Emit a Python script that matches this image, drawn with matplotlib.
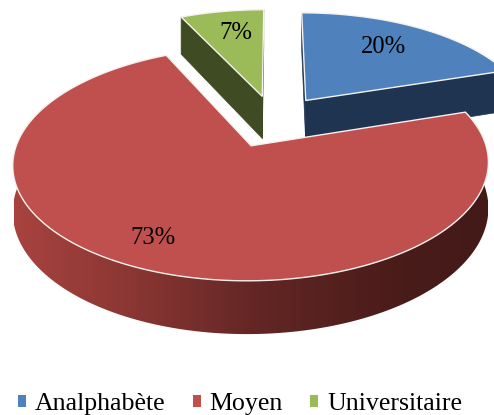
import numpy as np
import matplotlib
matplotlib.use('Agg')
import matplotlib.pyplot as plt
from matplotlib.patches import Polygon, Patch
from matplotlib.colors import LinearSegmentedColormap

labels = ['Analphabète', 'Moyen', 'Universitaire']
values = [20, 73, 7]
colors = ['#4f81bd', '#c0504d', '#9bbb59']
side_colors = ['#1f3450', '#7a2f2d', '#3f4b23']

# layout of the fake 3d pie, in pixels
cx, cy = 274, 121
rx, ry = 227, 106.5
persp = 0.15
depth = 43.5
explode = 0.245
label_r = [0.715, 0.793, 0.74]
label_turn = [-2.4, 3.6, 1.6]

plt.rcParams['font.family'] = ['Liberation Serif', 'DejaVu Serif']


def project(u, v, drop=0):
    s = 1 / (1 + persp * v)
    return cx + rx * u * s, cy - ry * v * s + drop * s


def arc_points(a1, a2, ox, oy, drop=0):
    ang = np.radians(np.linspace(a1, a2, 200))
    px, py = project(ox + np.sin(ang), oy + np.cos(ang), drop)
    return np.column_stack([px, py])


def wedge_points(a1, a2, ox, oy):
    return np.vstack([project(ox, oy), arc_points(a1, a2, ox, oy)])


def side_face(a, ox, oy):
    s = np.sin(np.radians(a))
    c = np.cos(np.radians(a))
    p0 = project(ox, oy)
    p1 = project(ox + s, oy + c)
    p2 = project(ox + s, oy + c, depth)
    p3 = project(ox, oy, depth)
    return [p0, p1, p2, p3]


fig = plt.figure(figsize=(4.94, 4.15), dpi=100)
ax = fig.add_axes([0, 0, 1, 1])

# wedge angles, clockwise from the top
total = sum(values)
starts = np.cumsum([0] + values[:-1]) * 360 / total
ends = np.cumsum(values) * 360 / total

wall_cmap = LinearSegmentedColormap.from_list(
    'wall', [(0, '#a8433f'), (0.25, '#8a3633'), (0.5, '#642725'), (0.8, '#4a1c1a'), (1, '#431a18')])

# back slices first, the big red one goes on top
for i in [2, 0, 1]:
    a1, a2 = starts[i], ends[i]
    mid = np.radians((a1 + a2) / 2)
    ox, oy = explode * np.sin(mid), explode * np.cos(mid)

    if i == 1:
        # outer wall, gradient clipped to the rim
        top = arc_points(a1, a2, ox, oy)
        bottom = arc_points(a1, a2, ox, oy, depth)
        wall = Polygon(np.vstack([top, bottom[::-1]]), transform=ax.transData,
                       facecolor='none', edgecolor='none')
        ax.add_patch(wall)
        im = ax.imshow(np.linspace(0, 1, 256).reshape(1, -1), cmap=wall_cmap,
                       extent=[14, 487, 340, 100], aspect='auto', zorder=2)
        im.set_clip_path(wall)
    else:
        for a in (a1, a2):
            ax.add_patch(Polygon(side_face(a, ox, oy), facecolor=side_colors[i],
                                 edgecolor=side_colors[i], lw=0.5))

    ax.add_patch(Polygon(wedge_points(a1, a2, ox, oy), facecolor=colors[i],
                         edgecolor='#f4f2ee', lw=1.0, joinstyle='miter',
                         zorder=3 if i == 1 else 1))

    lab = mid + np.radians(label_turn[i])
    tx, ty = project(ox + label_r[i] * np.sin(lab), oy + label_r[i] * np.cos(lab))
    ax.text(tx, ty + 1.5, '%d%%' % values[i], fontsize=17.7, color='black',
            ha='center', va='center', zorder=5)

ax.set_xlim(0, 494)
ax.set_ylim(415, 0)
ax.axis('off')

handles = [Patch(facecolor=c, edgecolor='none') for c in colors]
ax.legend(handles, labels, loc='lower center', bbox_to_anchor=(0.486, -0.032),
          ncol=3, frameon=False, fontsize=18.6, handlelength=0.31,
          handleheight=0.31, handletextpad=0.35, columnspacing=1.05,
          borderpad=0, labelspacing=0)

fig.savefig('out.png', dpi=100)
